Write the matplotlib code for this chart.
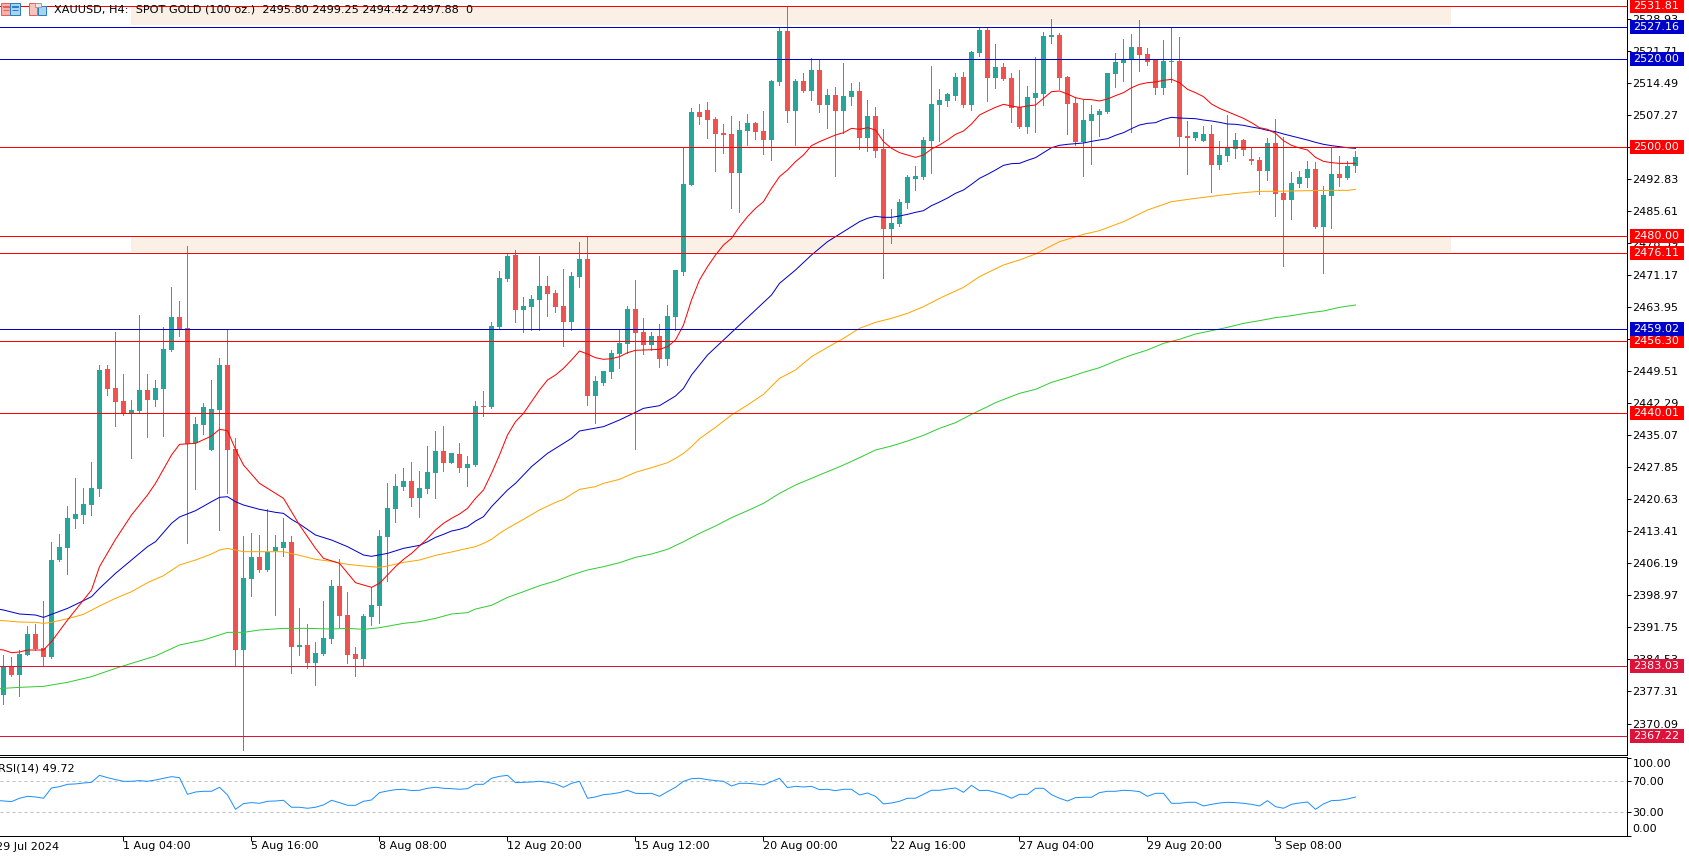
import numpy as np
import matplotlib
matplotlib.use("Agg")
import matplotlib.pyplot as plt
from matplotlib.patches import Rectangle

plt.rcParams["font.family"] = "DejaVu Sans"

# candles, H4 bars
opens = [
    2376.51, 2383.05, 2381.02, 2385.53, 2390.27, 2387.11, 2385.08, 2406.95, 2409.66, 2416.20,
    2417.10, 2419.35, 2422.96, 2450.02, 2445.73, 2442.80, 2440.02, 2440.55, 2445.28, 2443.03,
    2445.51, 2454.30, 2461.74, 2459.26, 2433.26, 2437.39, 2431.75, 2440.77, 2450.92, 2431.98,
    2386.66, 2402.67, 2407.63, 2404.70, 2408.91, 2409.66, 2411.01, 2387.34, 2387.79, 2383.73,
    2385.76, 2389.14, 2401.09, 2394.55, 2385.76, 2384.63, 2394.10, 2396.58, 2412.14, 2418.45,
    2423.41, 2424.77, 2420.93, 2422.96, 2426.57, 2431.53, 2428.82, 2430.85, 2427.70, 2428.37,
    2441.68, 2441.45, 2459.49, 2470.31, 2475.72, 2463.32, 2464.00, 2465.58, 2468.73, 2467.16,
    2464.22, 2460.61, 2470.76, 2474.82, 2443.93, 2446.86, 2449.34, 2453.40, 2455.66, 2463.55,
    2458.36, 2455.43, 2457.46, 2452.27, 2461.74, 2471.89, 2491.51, 2507.97, 2508.42, 2506.39,
    2503.23, 2503.01, 2494.21, 2503.68, 2505.49, 2503.68, 2501.65, 2514.73, 2526.23, 2508.19,
    2514.96, 2512.70, 2517.44, 2509.54, 2511.80, 2508.19, 2511.35, 2512.70, 2502.10, 2507.06,
    2499.62, 2481.59, 2482.71, 2487.45, 2492.86, 2493.31, 2501.43, 2509.54, 2510.45, 2511.57,
    2515.86, 2509.54, 2521.27, 2526.46, 2515.63, 2518.11, 2515.63, 2509.09, 2504.58, 2511.12,
    2512.02, 2524.88, 2525.33, 2515.86, 2510.00, 2501.20, 2505.94, 2507.29, 2507.97, 2516.53,
    2519.01, 2519.69, 2522.62, 2521.04, 2519.69, 2513.38, 2519.24, 2519.47, 2502.55, 2502.10,
    2501.43, 2503.01, 2496.02, 2498.05, 2499.62, 2501.65, 2497.37, 2497.14, 2494.66, 2500.98,
    2489.70, 2488.12, 2491.73, 2493.08, 2495.11, 2482.04, 2489.03, 2493.99, 2493.08, 2495.80,
]
closes = [
    2382.90, 2381.02, 2385.76, 2390.27, 2386.88, 2385.08, 2406.95, 2409.88, 2416.42, 2417.33,
    2419.58, 2423.19, 2449.79, 2445.51, 2442.58, 2439.87, 2440.77, 2445.28, 2443.03, 2445.73,
    2454.53, 2461.74, 2459.04, 2433.03, 2437.62, 2441.45, 2441.00, 2450.92, 2431.75, 2386.66,
    2402.89, 2407.63, 2404.70, 2408.83, 2409.88, 2411.01, 2387.34, 2387.79, 2383.73, 2385.98,
    2389.36, 2401.09, 2394.32, 2385.53, 2384.63, 2394.32, 2396.80, 2412.36, 2418.68, 2423.64,
    2424.77, 2420.93, 2423.19, 2426.79, 2431.53, 2428.82, 2431.08, 2427.70, 2428.60, 2441.68,
    2441.45, 2459.71, 2470.54, 2475.50, 2463.32, 2464.22, 2465.80, 2468.73, 2466.93, 2464.00,
    2460.61, 2470.99, 2474.82, 2443.93, 2447.31, 2449.57, 2453.63, 2455.88, 2463.55, 2458.14,
    2455.43, 2457.46, 2452.27, 2461.97, 2472.34, 2491.73, 2507.97, 2506.84, 2506.16, 2503.01,
    2502.78, 2494.21, 2503.91, 2505.49, 2503.46, 2501.65, 2514.96, 2526.23, 2508.19, 2514.96,
    2512.70, 2517.44, 2509.54, 2511.80, 2508.19, 2511.57, 2512.70, 2502.10, 2507.06, 2499.17,
    2481.59, 2482.94, 2487.67, 2493.31, 2493.54, 2501.65, 2509.77, 2510.67, 2512.02, 2515.86,
    2509.54, 2521.50, 2526.46, 2515.63, 2518.11, 2515.41, 2508.87, 2504.58, 2511.35, 2512.25,
    2525.10, 2525.33, 2515.63, 2509.77, 2501.20, 2506.16, 2507.52, 2508.19, 2516.76, 2519.24,
    2519.92, 2522.62, 2520.82, 2519.24, 2513.38, 2519.47, 2519.47, 2502.33, 2502.10, 2503.46,
    2503.01, 2496.02, 2498.27, 2499.85, 2501.65, 2499.40, 2496.92, 2494.66, 2500.98, 2489.48,
    2488.12, 2491.96, 2493.31, 2495.11, 2482.04, 2489.25, 2493.99, 2493.08, 2495.79, 2497.88,
]
highs = [
    2385.53, 2385.00, 2386.66, 2392.07, 2392.52, 2397.71, 2411.01, 2412.81, 2419.13, 2425.44,
    2423.19, 2429.05, 2450.92, 2450.92, 2458.36, 2448.89, 2443.03, 2462.19, 2448.89, 2447.54,
    2459.49, 2468.51, 2465.35, 2477.75, 2439.20, 2442.35, 2447.54, 2452.50, 2459.04, 2434.46,
    2412.36, 2413.04, 2412.59, 2418.45, 2412.59, 2416.42, 2412.36, 2396.13, 2392.52, 2388.46,
    2397.71, 2402.44, 2407.18, 2399.74, 2387.34, 2394.78, 2400.86, 2413.72, 2424.31, 2426.34,
    2427.70, 2429.05, 2427.02, 2432.66, 2436.04, 2437.17, 2431.08, 2433.33, 2430.40, 2442.80,
    2445.06, 2460.61, 2472.12, 2475.95, 2476.85, 2466.25, 2466.70, 2475.50, 2470.99, 2467.83,
    2472.57, 2471.89, 2478.65, 2480.01, 2448.44, 2449.57, 2454.30, 2459.04, 2464.22, 2470.09,
    2461.52, 2458.36, 2460.16, 2464.45, 2472.34, 2500.07, 2508.87, 2509.77, 2510.22, 2506.84,
    2505.26, 2507.06, 2505.94, 2507.52, 2505.71, 2508.19, 2515.18, 2526.91, 2531.79, 2515.41,
    2516.76, 2520.07, 2519.69, 2513.15, 2513.60, 2519.01, 2514.51, 2514.73, 2510.67, 2509.09,
    2504.13, 2486.09, 2488.35, 2493.76, 2495.79, 2502.33, 2518.34, 2513.15, 2512.25, 2516.76,
    2516.99, 2521.72, 2526.91, 2526.91, 2523.30, 2519.01, 2516.76, 2517.44, 2513.83, 2520.37,
    2526.00, 2528.94, 2525.78, 2516.08, 2511.35, 2510.67, 2509.54, 2508.64, 2516.76, 2521.27,
    2524.43, 2525.55, 2528.71, 2522.40, 2519.92, 2524.20, 2527.06, 2524.88, 2505.94, 2503.46,
    2504.81, 2505.03, 2501.43, 2507.29, 2503.23, 2501.88, 2500.00, 2497.82, 2502.10, 2506.39,
    2502.40, 2494.44, 2494.66, 2496.92, 2496.69, 2491.28, 2500.15, 2498.05, 2496.92, 2499.25,
]
lows = [
    2374.48, 2380.80, 2376.29, 2385.53, 2386.66, 2383.28, 2384.85, 2406.73, 2403.79, 2414.17,
    2415.29, 2417.10, 2421.38, 2444.16, 2437.17, 2439.65, 2429.95, 2440.02, 2434.76, 2441.68,
    2434.99, 2454.08, 2457.46, 2410.78, 2422.96, 2435.36, 2431.75, 2413.72, 2422.06, 2383.05,
    2364.11, 2398.83, 2404.25, 2404.47, 2394.55, 2407.85, 2381.47, 2385.53, 2382.60, 2378.77,
    2385.53, 2388.24, 2391.84, 2383.73, 2380.80, 2383.05, 2392.30, 2392.75, 2402.22, 2415.52,
    2422.73, 2419.13, 2416.65, 2422.06, 2420.93, 2427.02, 2428.82, 2426.79, 2423.64, 2428.15,
    2439.42, 2441.22, 2459.04, 2469.86, 2460.61, 2458.36, 2458.81, 2458.81, 2461.97, 2462.87,
    2455.20, 2458.81, 2468.51, 2441.90, 2437.84, 2446.41, 2447.99, 2450.24, 2453.63, 2431.98,
    2453.40, 2454.30, 2450.47, 2450.92, 2458.81, 2471.21, 2491.51, 2505.26, 2502.10, 2494.66,
    2498.72, 2486.32, 2485.42, 2500.53, 2501.88, 2498.50, 2497.14, 2514.05, 2505.71, 2500.53,
    2512.48, 2510.67, 2507.97, 2504.36, 2493.54, 2503.16, 2509.54, 2499.62, 2499.17, 2497.82,
    2470.54, 2478.43, 2482.26, 2486.32, 2490.38, 2492.86, 2494.21, 2501.43, 2509.32, 2510.67,
    2509.09, 2508.42, 2520.59, 2510.45, 2513.38, 2515.18, 2505.71, 2504.36, 2503.23, 2503.46,
    2509.54, 2523.52, 2513.15, 2503.01, 2500.53, 2493.54, 2496.24, 2502.55, 2507.74, 2513.60,
    2514.96, 2503.46, 2517.21, 2518.56, 2512.02, 2512.02, 2514.73, 2500.00, 2493.99, 2501.65,
    2501.43, 2489.93, 2495.11, 2496.92, 2497.59, 2498.27, 2496.24, 2489.48, 2492.63, 2484.52,
    2473.24, 2483.84, 2491.06, 2491.06, 2481.81, 2471.66, 2481.81, 2491.28, 2492.86, 2494.42,
]

# moving averages, bar number -> value (bar -1 sits just off the left edge)
ma_red_bars = [-1, 0, 1, 2, 3, 5, 6, 8, 10, 11, 12, 14, 16, 18, 19, 21, 22, 24, 26, 27, 28, 29, 30, 32, 35, 37, 39, 40, 42,
               44, 46, 47, 49, 50, 51, 52, 53, 54, 55, 56, 57, 58, 59, 60, 61, 62, 63, 64, 65, 66, 67, 68, 69, 70, 71,
               72, 73, 74, 75, 76, 77, 78, 79, 80, 82, 83, 84, 85, 86, 87, 88, 89, 90, 91, 92, 93, 94, 95, 96, 97, 98,
               99, 100, 101, 102, 103, 104, 105, 106, 107, 108, 109, 110, 111, 112, 113, 114, 115, 116, 117, 118, 119,
               120, 121, 122, 123, 124, 125, 126, 127, 128, 129, 130, 131, 132, 133, 134, 135, 136, 137, 138, 139, 140,
               141, 142, 143, 144, 145, 146, 147, 148, 149, 150, 151, 152, 153, 154, 155, 156, 157, 158, 159, 160, 161,
               162, 163, 164, 165, 166, 167, 168, 169]
ma_red = [2386.88, 2386.66, 2386.06, 2386.21, 2386.66, 2386.66, 2388.54, 2393.42, 2397.93, 2400.19, 2405.45, 2411.61, 2417.10,
          2421.61, 2424.24, 2430.63, 2433.03, 2433.26, 2434.91, 2436.42, 2436.11, 2431.90, 2428.37, 2424.24, 2420.86,
          2414.84, 2409.58, 2407.33, 2406.20, 2401.84, 2400.79, 2401.69, 2405.45, 2407.10, 2408.45, 2410.11, 2411.84,
          2413.72, 2415.22, 2416.35, 2417.32, 2418.60, 2420.86, 2422.73, 2426.49, 2430.63, 2435.14, 2438.14, 2440.02,
          2442.65, 2445.28, 2447.54, 2448.66, 2450.17, 2452.05, 2454.08, 2453.40, 2452.57, 2452.20, 2452.35, 2452.80,
          2453.70, 2454.23, 2454.30, 2454.45, 2455.05, 2456.56, 2459.94, 2465.58, 2470.09, 2473.09, 2475.72, 2477.98,
          2479.48, 2482.11, 2484.37, 2486.24, 2487.75, 2490.75, 2493.39, 2494.89, 2496.77, 2498.27, 2500.38, 2501.28,
          2502.03, 2502.78, 2503.31, 2504.28, 2504.06, 2504.43, 2503.91, 2501.28, 2499.77, 2498.80, 2498.27, 2497.74,
          2498.27, 2499.62, 2500.53, 2501.65, 2502.93, 2503.68, 2505.26, 2507.29, 2508.19, 2509.02, 2509.69, 2509.32,
          2509.02, 2509.32, 2509.54, 2511.05, 2512.55, 2512.70, 2512.02, 2511.20, 2510.82, 2510.75, 2510.45, 2510.90,
          2511.65, 2512.33, 2513.45, 2514.20, 2514.58, 2514.73, 2515.11, 2515.33, 2514.58, 2513.08, 2512.33, 2511.42,
          2509.77, 2508.79, 2508.04, 2507.29, 2506.54, 2505.56, 2504.43, 2504.06, 2503.16, 2501.50, 2500.45, 2499.85,
          2499.40, 2497.74, 2496.84, 2496.54, 2496.39, 2496.39, 2496.39]

ma_blue_bars = [-1, 0, 2, 4, 5, 6, 8, 10, 11, 12, 14, 16, 18, 19, 21, 22, 24, 26, 27, 28, 29, 30, 32, 34, 35, 36, 37, 39, 41,
                43, 45, 46, 48, 50, 52, 53, 54, 55, 56, 57, 58, 59, 60, 61, 62, 63, 64, 65, 66, 67, 68, 69, 70, 71, 72,
                75, 77, 79, 80, 82, 84, 85, 86, 87, 88, 90, 92, 94, 96, 97, 99, 101, 103, 105, 106, 107, 108, 109, 110,
                111, 112, 113, 114, 115, 116, 117, 118, 119, 120, 121, 122, 123, 124, 125, 126, 127, 128, 129, 130, 131,
                132, 133, 134, 135, 136, 137, 138, 139, 140, 141, 142, 143, 144, 145, 146, 147, 148, 149, 150, 151, 152,
                153, 154, 155, 156, 157, 158, 159, 160, 161, 162, 163, 164, 165, 166, 167, 168, 169]
ma_blue = [2395.98, 2395.68, 2394.78, 2394.55, 2394.02, 2394.70, 2396.05, 2397.78, 2398.68, 2400.56, 2403.94, 2406.95, 2409.96,
           2411.08, 2415.22, 2416.65, 2418.07, 2420.10, 2421.08, 2421.23, 2420.10, 2419.35, 2418.38, 2417.70, 2417.47,
           2416.12, 2415.07, 2412.59, 2411.46, 2409.96, 2408.08, 2407.78, 2408.45, 2409.58, 2410.26, 2411.08, 2412.06,
           2412.74, 2413.49, 2413.87, 2414.47, 2415.74, 2416.72, 2418.98, 2420.86, 2422.73, 2424.24, 2426.12, 2428.00,
           2429.50, 2431.00, 2432.13, 2433.26, 2434.38, 2436.04, 2437.02, 2438.52, 2440.25, 2441.15, 2441.75, 2443.93,
           2445.66, 2448.66, 2450.92, 2453.17, 2456.56, 2459.94, 2463.32, 2466.70, 2469.33, 2472.34, 2475.72, 2478.73,
           2480.98, 2482.11, 2483.24, 2483.99, 2484.44, 2484.22, 2484.22, 2484.52, 2484.89, 2485.34, 2485.72, 2486.85,
           2487.67, 2488.57, 2489.63, 2490.38, 2491.66, 2493.01, 2493.91, 2494.89, 2495.94, 2496.32, 2496.39, 2497.07,
           2497.67, 2498.80, 2499.92, 2500.45, 2500.68, 2500.83, 2500.98, 2501.35, 2501.65, 2501.95, 2502.71, 2503.31,
           2504.21, 2505.03, 2505.41, 2505.56, 2506.31, 2506.76, 2506.61, 2506.54, 2506.46, 2506.16, 2505.94, 2505.64,
           2505.26, 2505.19, 2504.96, 2504.58, 2504.28, 2503.83, 2503.53, 2503.01, 2502.55, 2502.10, 2501.65, 2501.13,
           2500.68, 2500.38, 2500.15, 2499.92, 2499.77]

ma_orange_bars = [-1, 0, 2, 4, 5, 6, 8, 10, 12, 14, 16, 18, 20, 22, 24, 26, 27, 28, 29, 30, 32, 35, 37, 39, 41, 43, 45, 47,
                  48, 50, 52, 54, 56, 58, 59, 60, 61, 62, 63, 65, 67, 69, 70, 71, 72, 74, 75, 77, 79, 81, 83, 84, 85,
                  86, 87, 89, 91, 93, 95, 97, 99, 101, 103, 105, 107, 109, 111, 113, 115, 117, 120, 122, 125, 127, 129,
                  132, 135, 137, 140, 143, 146, 149, 152, 155, 157, 159, 163, 166, 168, 169]
ma_orange = [2393.35, 2393.27, 2392.97, 2392.90, 2392.67, 2392.90, 2393.72, 2394.70, 2396.58, 2398.31, 2399.81, 2401.84, 2403.42,
             2405.82, 2406.95, 2408.30, 2409.21, 2409.58, 2409.21, 2408.83, 2408.83, 2408.83, 2408.00, 2407.10, 2406.65,
             2405.98, 2405.60, 2405.30, 2405.60, 2406.42, 2406.95, 2408.00, 2408.76, 2409.58, 2409.96, 2410.71, 2411.61,
             2412.96, 2414.09, 2416.12, 2418.23, 2419.95, 2420.63, 2421.76, 2422.89, 2423.49, 2424.24, 2425.14, 2426.72,
             2427.77, 2428.90, 2429.87, 2431.00, 2432.51, 2434.31, 2436.86, 2439.65, 2441.90, 2444.31, 2447.91, 2449.79,
             2452.80, 2454.90, 2456.93, 2459.19, 2460.54, 2461.44, 2462.57, 2464.07, 2465.95, 2468.43, 2470.84, 2473.47,
             2474.60, 2475.95, 2478.73, 2480.38, 2481.21, 2483.24, 2485.87, 2487.75, 2488.50, 2489.18, 2489.78, 2490.08,
             2490.08, 2490.23, 2490.30, 2490.30, 2490.53]

ma_green_bars = [-1, 0, 2, 5, 8, 11, 14, 16, 19, 22, 25, 28, 30, 32, 35, 38, 41, 43, 45, 47, 50, 52, 54, 56, 58, 59, 61, 63,
                 65, 67, 69, 71, 73, 75, 77, 79, 81, 83, 85, 87, 89, 91, 93, 95, 97, 99, 101, 103, 105, 107, 109, 111,
                 113, 115, 117, 119, 121, 123, 124, 127, 129, 131, 133, 135, 137, 139, 141, 143, 145, 147, 149, 151,
                 153, 155, 157, 159, 161, 163, 165, 167, 169]
ma_green = [2377.94, 2378.02, 2378.24, 2378.47, 2379.37, 2380.65, 2382.52, 2383.65, 2385.31, 2387.79, 2388.91, 2390.64, 2390.64,
            2391.17, 2391.54, 2391.54, 2391.39, 2391.54, 2391.32, 2391.69, 2392.67, 2393.05, 2393.80, 2394.78, 2395.08,
            2395.90, 2396.73, 2398.53, 2399.81, 2401.16, 2402.22, 2403.57, 2404.70, 2405.45, 2406.35, 2407.55, 2408.30,
            2409.36, 2411.08, 2412.96, 2414.62, 2416.50, 2418.07, 2419.73, 2421.98, 2423.86, 2425.37, 2426.87, 2428.37,
            2430.03, 2431.75, 2432.66, 2433.78, 2435.06, 2436.64, 2437.92, 2439.80, 2441.52, 2442.43, 2444.53, 2445.43,
            2447.01, 2448.07, 2449.27, 2450.32, 2451.82, 2453.17, 2454.30, 2455.81, 2456.71, 2457.91, 2458.66, 2459.41,
            2460.31, 2460.92, 2461.59, 2462.04, 2462.65, 2463.10, 2463.92, 2464.45]

# RSI(14), one value per bar starting at bar -1
rsi = [
    45.5,
    44.6, 43.8, 48.1, 50.6, 49.8, 48.1, 61.4, 63.1, 66.1, 66.6,
    67.8, 68.7, 77.7, 74.7, 72.2, 70.0, 70.0, 70.9, 70.0, 71.7,
    73.9, 76.0, 74.7, 53.2, 56.2, 57.1, 57.1, 62.3, 52.4, 33.9,
    41.2, 42.5, 41.6, 44.2, 44.6, 45.5, 36.5, 36.5, 35.2, 36.5,
    39.5, 45.5, 42.5, 39.0, 39.0, 44.2, 45.9, 55.4, 57.5, 59.2,
    59.7, 58.0, 58.4, 61.0, 62.3, 61.0, 60.5, 59.7, 60.5, 66.1,
    66.1, 73.9, 76.4, 77.7, 68.3, 68.7, 69.1, 70.0, 68.7, 66.6,
    62.3, 67.4, 70.0, 48.1, 49.8, 52.8, 53.7, 55.4, 58.4, 54.5,
    54.1, 54.5, 50.6, 56.7, 62.3, 70.0, 73.4, 73.9, 72.1, 70.9,
    70.0, 64.0, 67.4, 67.4, 66.6, 65.3, 69.6, 73.9, 61.8, 63.5,
    62.7, 63.5, 59.2, 59.7, 57.9, 59.7, 59.7, 52.4, 54.9, 50.6,
    40.8, 42.0, 44.2, 48.1, 48.1, 53.2, 58.4, 58.4, 60.1, 61.4,
    55.8, 64.8, 57.9, 58.4, 55.8, 52.8, 48.1, 53.2, 53.2, 61.0,
    61.0, 52.8, 48.1, 44.6, 48.9, 49.4, 49.4, 55.4, 57.1, 57.1,
    58.4, 57.9, 56.7, 50.6, 54.5, 54.5, 41.6, 41.6, 42.9, 42.9,
    38.2, 40.3, 42.0, 42.9, 42.5, 41.6, 40.3, 38.2, 45.1, 37.3,
    35.2, 40.3, 42.0, 43.3, 33.9, 40.8, 45.1, 45.5, 47.2, 49.72,
]

# horizontal levels, bottom to top
levels = [2367.22, 2383.03, 2440.01, 2456.30, 2459.02, 2476.11, 2480.00, 2500.00, 2520.00, 2527.16, 2531.81]
level_colors = ["#dc143c", "#dc143c", "#ff0000", "#ff0000", "#0000cd", "#ff0000", "#ff0000", "#ff0000", "#0000cd",
                "#0000cd", "#ff0000"]

zones = [(2476.35, 2480.00), (2527.60, 2531.81)]
zone_bars = (16, 181)

price_ticks = [2370.09, 2377.31, 2384.53, 2391.75, 2398.97, 2406.19, 2413.41, 2420.63, 2427.85, 2435.07, 2442.29,
               2449.51, 2456.73, 2463.95, 2471.17, 2478.39, 2485.61, 2492.83, 2500.05, 2507.27, 2514.49, 2521.71,
               2528.93]
rsi_ticks = [0, 30, 70, 100]
date_bars = [15, 31, 47, 63, 79, 95, 111, 127, 143, 159]
date_labels = ["1 Aug 04:00", "5 Aug 16:00", "8 Aug 08:00", "12 Aug 20:00", "15 Aug 12:00",
               "20 Aug 00:00", "22 Aug 16:00", "27 Aug 04:00", "29 Aug 20:00", "3 Sep 08:00"]

W, H = 1690, 856
PANE_R = 1627
UP = "#26a69a"
DOWN = "#ef5350"
PX = 0.72  # one pixel as a line width

fig = plt.figure(figsize=(W / 100, H / 100), dpi=100, facecolor="white")
ax = fig.add_axes([0, (H - 755.3) / H, PANE_R / W, 755.3 / H])
ax2 = fig.add_axes([0, (H - 836.3) / H, PANE_R / W, 79 / H], sharex=ax)

bars = np.arange(len(opens))
o, c, hi, lo = map(np.array, (opens, closes, highs, lows))
up = c >= o

for low, high in zones:
    ax.fill_between(zone_bars, low, high, color="#faf0e6", lw=0, zorder=1)

for mask, col in ((up, UP), (~up, DOWN)):
    ax.vlines(bars[mask], lo[mask], hi[mask], color=col, lw=PX, antialiased=False, zorder=2)
    ax.bar(bars[mask], (c - o)[mask], bottom=o[mask], width=0.625, color=col, lw=0, antialiased=False, zorder=3)

# curves stay antialiased, aliased ones come out two pixels wide
ax.plot(ma_green_bars, ma_green, color="#32cd32", lw=PX, zorder=4)
ax.plot(ma_orange_bars, ma_orange, color="#ffa500", lw=PX, zorder=4)
ax.plot(ma_blue_bars, ma_blue, color="#0000cd", lw=PX, zorder=4)
ax.plot(ma_red_bars, ma_red, color="#ff0000", lw=PX, zorder=4)

for lvl, col in zip(levels, level_colors):
    ax.axhline(lvl, color=col, lw=PX, antialiased=False, zorder=5)
    # price flag on the scale
    ax.add_patch(Rectangle((1630 / PANE_R, lvl - 1.58), 54 / PANE_R, 3.16, transform=ax.get_yaxis_transform(),
                           facecolor=col, lw=0, clip_on=False, zorder=10))
    ax.text(1633 / PANE_R, lvl, "%.2f" % lvl, transform=ax.get_yaxis_transform(), color="white", fontsize=8,
            va="center", ha="left", clip_on=False, zorder=11)

ax.set_ylim(2362.92, 2533.22)
ax.yaxis.tick_right()
ax.set_yticks(price_ticks)
ax.set_yticklabels(["%.2f" % t for t in price_ticks], fontsize=8)
ax.tick_params(axis="y", length=3, width=PX, pad=1, color="black")
ax.tick_params(axis="x", length=0, labelbottom=False)
ax.spines["left"].set_visible(False)
ax.spines["top"].set_visible(False)
for s in ("right", "bottom"):
    ax.spines[s].set_linewidth(PX)

# RSI pane
ax2.axhline(70, color="#c0c0c0", lw=PX, ls=(0, (3, 3)), zorder=1)
ax2.axhline(30, color="#c0c0c0", lw=PX, ls=(0, (3, 3)), zorder=1)
ax2.plot(np.arange(-1, len(opens)), rsi, color="#1e90ff", lw=PX, zorder=2)
ax2.set_ylim(-0.97, 100.97)
ax2.yaxis.tick_right()
ax2.set_yticks(rsi_ticks)
ax2.set_yticklabels(["", "30.00", "70.00", ""], fontsize=8)
ax2.tick_params(axis="y", length=3, width=PX, pad=1)
ax2.text(1632.7 / PANE_R, 91.9, "100.00", transform=ax2.get_yaxis_transform(), fontsize=8, va="center", clip_on=False)
ax2.text(1632.7 / PANE_R, 8.06, "0.00", transform=ax2.get_yaxis_transform(), fontsize=8, va="center", clip_on=False)
ax2.set_xticks(date_bars)
ax2.set_xticklabels(date_labels, fontsize=8, ha="left")
ax2.tick_params(axis="x", length=3.6, width=PX, pad=0)
ax2.spines["left"].set_visible(False)
for s in ("right", "top", "bottom"):
    ax2.spines[s].set_linewidth(PX)
ax2.text(-2.5 / PANE_R, 1 - (768.3 - 757.3) / 79, "RSI(14) 49.72", transform=ax2.transAxes, fontsize=8, va="center",
         ha="left", clip_on=False)

# set_xticks moves the view, so the limits go last
ax.set_xlim(-3.5 / 8, (PANE_R - 3.5) / 8)
# first date sits on a bar just off the left edge
ax2.text(-1, -(846.5 - 836.3) / 79, "29 Jul 2024", transform=ax2.get_xaxis_transform(), fontsize=8, va="center",
         ha="left", clip_on=False)

# header text and the two small toolbar icons
fig.text(54.5 / W, 1 - 9.5 / H, "XAUUSD, H4:  SPOT GOLD (100 oz.)  2495.80 2499.25 2494.42 2497.88  0", fontsize=8.1,
         va="center", ha="left", zorder=12)


def icon(x, y, w, h, face, edge):
    fig.add_artist(Rectangle((x / W, 1 - (y + h) / H), w / W, h / H, transform=fig.transFigure, facecolor=face,
                             edgecolor=edge, lw=PX, zorder=12))


icon(1.5, 2.5, 9, 12, "#f7b0ac", "#e8605a")
icon(10.5, 2.5, 9, 12, "#a8d4f0", "#2a7fc0")
for yy in (6, 9.5):
    icon(3, yy, 6, 0.5, "#e8605a", "#e8605a")
    icon(12, yy, 6, 0.5, "#2a7fc0", "#2a7fc0")
icon(28.5, 2.5, 8, 12, "#f7c4c0", "#e8605a")
icon(38.5, 5.5, 8, 9, "#a8d4f0", "#2a7fc0")
icon(34.5, 2.5, 6, 4, "#e8e8e8", "#a0a0a0")

fig.savefig("out.png", dpi=100)
